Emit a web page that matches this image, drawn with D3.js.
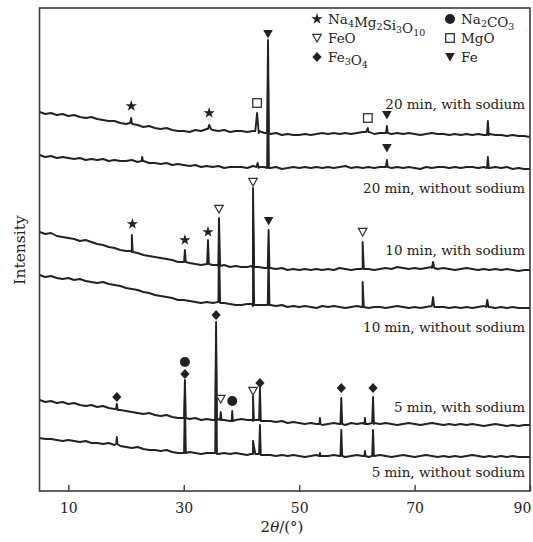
<!DOCTYPE html>
<html><head><meta charset="utf-8">
<script src="https://cdn.jsdelivr.net/npm/d3@7"></script>
<style>body{margin:0;background:#fff}svg{display:block}</style>
</head><body>
<svg id="chart" width="533" height="542"></svg>
<script>
// XRD patterns, intensity in arbitrary units (stacked), sampled every 1° from 5° to 90°
const thetaStart = 5;
const seriesNames = [
  "20 min, with sodium", "20 min, without sodium",
  "10 min, with sodium", "10 min, without sodium",
  "5 min, with sodium", "5 min, without sodium"
];

const base20Na = [379,377,378,376,377,375,376,374,373,374, 372,371,370,370,368,367,368,366,364,365,
  363,362,363,361,360,360,359,361,360,362, 361,360,361,359,360,360,359,360,358,358,
  357,358,356,357,356,356,357,356,357,358, 357,358,357,358,357,358,359,359,357,358,
  358,357,358,357,358,357,356,357,358,357, 357,356,357,356,357,356,357,356,357,356,
  356,355,356,355,355,354];
const base20 = [336,334,335,333,334,333,332,333,331,332, 331,332,330,331,330,330,331,329,330,328,
  328,327,328,326,327,326,325,326,324,325, 324,325,323,324,324,324,323,325,323,324,
  323,324,322,323,324,323,324,323,324,323, 324,323,324,325,323,324,323,324,323,324,
  324,323,324,323,324,323,322,324,323,324, 324,323,324,323,324,324,323,324,323,324,
  323,324,322,323,322,322];
const base10Na = [259,257,258,255,254,253,252,250,251,249, 247,246,244,243,241,240,239,238,236,235,
  234,233,232,231,229,229,228,227,226,227, 226,225,226,224,225,224,224,223,224,223,
  223,222,223,221,222,221,222,221,222,221, 222,221,223,222,221,222,223,222,221,222,
  223,222,224,223,222,223,222,223,224,222, 223,222,221,222,223,222,221,222,221,222,
  221,222,221,220,221,221];
const base10 = [216,214,215,213,212,213,211,212,210,209, 208,209,207,206,205,203,202,201,199,198,
  196,195,194,193,191,191,190,189,188,189, 188,189,188,187,186,186,187,185,186,186,
  186,185,186,184,185,184,185,184,183,185, 184,185,184,183,184,185,184,183,184,184,
  183,184,185,184,183,184,183,184,185,184, 184,183,184,183,184,183,184,185,184,183,
  184,183,184,183,183,183];
const base5Na = [91,89,90,88,89,87,88,86,85,86, 84,85,83,82,81,80,79,78,77,78,
  76,75,76,74,73,73,72,73,71,72, 71,72,71,70,71,72,71,70,71,70,
  70,69,70,68,69,68,67,68,67,66, 67,68,67,66,68,67,68,67,68,67,
  68,67,66,67,68,67,66,67,68,67, 66,67,66,67,66,67,66,65,66,67,
  66,65,66,65,66,66];
const base5 = [53,52,52,51,50,51,50,49,50,48, 48,47,48,46,45,44,43,44,42,41,
  41,40,41,39,38,38,39,38,37,38, 38,37,38,37,38,37,36,37,37,36,
  36,35,36,35,36,35,34,35,36,35, 35,36,35,34,35,36,35,34,35,36,
  35,34,35,36,35,34,35,36,35,34, 35,34,35,34,35,36,35,34,35,34,
  35,34,35,34,34,34];

// Diffraction peaks: [2θ, intensity] points of each reflection
const peaks20Na = [[20.7,368],[20.9,373],[21.1,367],[34.2,362],[34.4,366],[34.7,362],
  [42.4,360],[42.7,378],[43.0,360],[44.45,358],[44.6,451],[44.75,358],
  [61.6,359],[61.9,363],[62.2,359],[65.05,358],[65.2,365],[65.35,358],
  [82.55,356],[82.7,370],[82.85,356]];
const peaks20 = [[22.7,330],[22.8,334],[22.9,330],[42.6,324],[42.8,328],[43.0,324],
  [44.45,323],[44.6,420],[44.75,323],[65.05,324],[65.2,331],[65.35,324],
  [82.55,323],[82.7,334],[82.85,323]];
const peaks10Na = [[20.85,240],[21.0,256],[21.15,239],[30.05,229],[30.2,241],[30.35,229],
  [34.05,227],[34.2,251],[34.35,227],[35.9,226],[36.1,273],[36.3,225],
  [41.8,225],[42.0,303],[42.2,224],[44.55,223],[44.7,261],[44.85,223],
  [60.8,222],[61.0,249],[61.2,222],[73.0,223],[73.2,229],[73.4,223]];
const peaks10 = [[35.9,189],[36.1,250],[36.3,188],[41.8,187],[42.0,270],[42.2,186],
  [44.55,186],[44.7,235],[44.85,186],[60.8,184],[61.0,209],[61.2,184],
  [73.0,185],[73.2,194],[73.4,184],[82.4,184],[82.6,191],[82.8,184]];
const peaks5Na = [[18.25,82],[18.4,87],[18.55,81],[30.05,73],[30.2,111],[30.35,73],
  [35.45,71],[35.6,169],[35.75,71],[36.3,71],[36.4,79],[36.55,71],
  [38.3,70],[38.4,80],[38.5,70],[41.85,71],[42.0,95],[42.15,71],
  [43.05,71],[43.2,103],[43.35,70],[53.5,67],[53.6,73],[53.7,67],
  [57.15,67],[57.3,93],[57.45,67],[61.3,67],[61.4,73],[61.5,67],
  [62.65,68],[62.8,94],[62.95,67]];
const peaks5 = [[18.3,47],[18.4,54],[18.5,47],[30.05,38],[30.2,95],[30.35,38],
  [35.45,38],[35.6,140],[35.75,37],[41.6,37],[42.0,50],[42.4,37],
  [43.05,37],[43.2,66],[43.35,36],[53.5,35],[53.6,38],[53.7,35],
  [57.15,35],[57.3,61],[57.45,35],[61.3,35],[61.4,40],[61.5,35],
  [62.65,35],[62.8,61],[62.95,35]];

// Phase identification marks: [phase, 2θ, intensity]
const phaseMarks = [
  ["star",20.9,385],["star",34.4,378],["square",42.7,388],["triFill",44.6,457],["square",61.9,373],["triFill",65.2,376],
  ["triFill",65.2,343],
  ["star",21.1,267],["star",30.2,251],["star",34.2,259],["triOpen",36.1,282],["triOpen",42.0,309],["triFill",44.7,270],["triOpen",61.0,259],
  ["diamond",18.4,94],["circle",30.2,129],["diamond",30.2,117],["diamond",35.6,176],["triOpen",36.4,92],["circle",38.4,90],
  ["triOpen",42.0,100],["diamond",43.2,108],["diamond",57.3,103],["diamond",62.8,103]
];

const legendItems = [
  ["star", ["Na",["4"],"Mg",["2"],"Si",["3"],"O",["10"]]],
  ["circle", ["Na",["2"],"CO",["3"]]],
  ["triOpen", ["FeO"]],
  ["square", ["MgO"]],
  ["diamond", ["Fe",["3"],"O",["4"]]],
  ["triFill", ["Fe"]]
];

const xTicks = [10, 30, 50, 70, 90];

// ---------------------------------------------------------------
const frame = {left: 39.5, right: 530, top: 8, bottom: 491};
const ink = "#222";
const serif = "'DejaVu Serif', 'Liberation Serif', serif";

const svg = d3.select("#chart");
const x = d3.scaleLinear().domain([5, 90]).range([frame.left, frame.right]);
const y = d3.scaleLinear().domain([0, 483]).range([frame.bottom, frame.top]);

function buildSeries(base, peaks) {
  const pts = base.map((v, i) => [thetaStart + i, v]).concat(peaks);
  return pts.sort((a, b) => a[0] - b[0]);
}
const allSeries = [
  buildSeries(base20Na, peaks20Na), buildSeries(base20, peaks20),
  buildSeries(base10Na, peaks10Na), buildSeries(base10, peaks10),
  buildSeries(base5Na, peaks5Na), buildSeries(base5, peaks5)
];

svg.append("defs").append("clipPath").attr("id", "plotClip")
  .append("rect").attr("x", frame.left).attr("y", frame.top)
  .attr("width", frame.right - frame.left).attr("height", frame.bottom - frame.top);

const line = d3.line().x(d => x(d[0])).y(d => y(d[1]));
svg.append("g").attr("clip-path", "url(#plotClip)")
  .selectAll("path").data(allSeries).join("path")
  .attr("d", line).attr("fill", "none")
  .attr("stroke", ink).attr("stroke-width", 1.9).attr("stroke-linejoin", "round");

// marker glyphs
function drawMark(g, type, cx, cy) {
  switch (type) {
    case "star":
      g.append("path").attr("d", d3.symbol().type(d3.symbolStar).size(40)())
        .attr("transform", `translate(${cx},${cy})`).attr("fill", ink); break;
    case "circle":
      g.append("circle").attr("cx", cx).attr("cy", cy).attr("r", 5).attr("fill", ink); break;
    case "diamond":
      g.append("path").attr("d", `M${cx},${cy-5}L${cx+4.6},${cy}L${cx},${cy+5}L${cx-4.6},${cy}Z`).attr("fill", ink); break;
    case "triFill":
      g.append("path").attr("d", `M${cx-4.8},${cy-4}L${cx+4.8},${cy-4}L${cx},${cy+4.5}Z`).attr("fill", ink); break;
    case "triOpen":
      g.append("path").attr("d", `M${cx-4.3},${cy-3.6}L${cx+4.3},${cy-3.6}L${cx},${cy+4}Z`)
        .attr("fill", "#fff").attr("stroke", "#333").attr("stroke-width", 1.2); break;
    case "square":
      g.append("rect").attr("x", cx - 4.3).attr("y", cy - 4.3).attr("width", 8.6).attr("height", 8.6)
        .attr("fill", "#fff").attr("stroke", "#333").attr("stroke-width", 1.3); break;
  }
}
const markG = svg.append("g");
phaseMarks.forEach(([t, th, v]) => drawMark(markG, t, x(th), y(v)));

// frame
svg.append("rect").attr("x", frame.left).attr("y", frame.top)
  .attr("width", frame.right - frame.left).attr("height", frame.bottom - frame.top)
  .attr("fill", "none").attr("stroke", "#3a3a3a").attr("stroke-width", 1.6);

// bottom axis with inward ticks
const xAxis = d3.axisBottom(x).tickValues(xTicks).tickSizeInner(-6).tickSizeOuter(0).tickPadding(12);
const ax = svg.append("g").attr("transform", `translate(0,${frame.bottom})`).call(xAxis);
ax.select(".domain").remove();
ax.selectAll(".tick line").attr("stroke", "#3a3a3a").attr("stroke-width", 1.4);
ax.selectAll(".tick text").attr("font-family", serif).attr("font-size", 14).attr("fill", "#222")
  .attr("dx", d => d === 90 ? -8 : 0);

// axis titles
const xt = svg.append("text").attr("x", 282).attr("y", 532).attr("text-anchor", "middle")
  .attr("font-family", serif).attr("font-size", 15).attr("fill", "#222");
xt.append("tspan").text("2");
xt.append("tspan").attr("font-style", "italic").text("θ");
xt.append("tspan").text("/(°)");

svg.append("text").attr("transform", "translate(24.5,250) rotate(-90)").attr("text-anchor", "middle")
  .attr("font-family", serif).attr("font-size", 15.5).attr("fill", "#222").text("Intensity");

// pattern labels
const labelBaselines = [109, 193, 255, 332, 412, 477];
svg.append("g").selectAll("text").data(seriesNames).join("text")
  .attr("x", 525).attr("y", (d, i) => labelBaselines[i]).attr("text-anchor", "end")
  .attr("font-family", serif).attr("font-size", 13.5).attr("fill", "#222").text(d => d);

// legend
const lg = svg.append("g");
const legCols = [317, 450], legRows = [19, 38, 57];
legendItems.forEach(([type, parts], i) => {
  const cx = legCols[i % 2], cy = legRows[Math.floor(i / 2)];
  drawMark(lg, type, cx, cy);
  const t = lg.append("text").attr("x", cx + 11).attr("y", cy + 5)
    .attr("font-family", serif).attr("font-size", 13.5).attr("fill", "#222");
  parts.forEach(p => {
    if (Array.isArray(p)) {
      t.append("tspan").attr("font-size", 9.5).attr("dy", 3).text(p[0]);
      t.append("tspan").attr("dy", -3).text("");
    } else {
      t.append("tspan").text(p);
    }
  });
});
</script>
</body></html>
